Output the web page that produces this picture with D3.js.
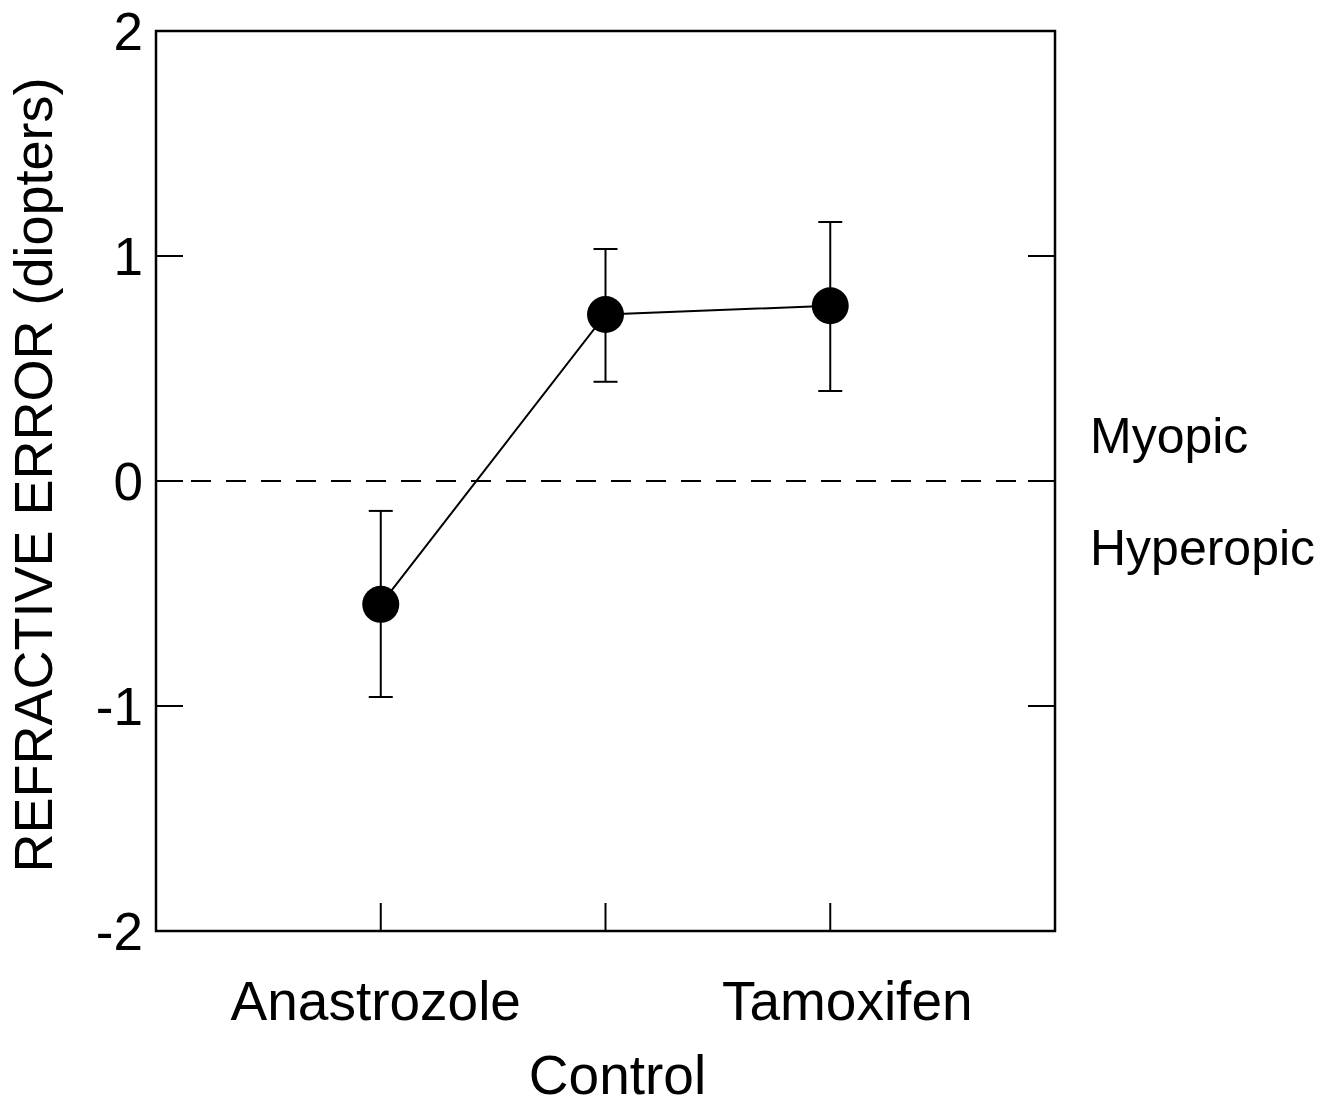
<!DOCTYPE html>
<html>
<head>
<meta charset="utf-8">
<script src="https://cdn.jsdelivr.net/npm/d3@7"></script>
<style>
  body { margin: 0; background: #fff; }
  svg { display: block; font-family: "Liberation Sans", Arial, sans-serif; }
</style>
</head>
<body>
<svg id="chart"></svg>
<script>
/*
  Refractive error by group, mean with error bars
*/

var groups = ["Anastrozole", "Control", "Tamoxifen"],
    groupPos = [1, 2, 3],
    means = [-0.548, 0.74, 0.779],
    errLow = [-0.96, 0.441, 0.4],
    errHigh = [-0.133, 1.031, 1.151],
    yTicks = [-2, -1, 0, 1, 2],
    yInnerTicks = [-1, 0, 1];

var W = 1336, H = 1105,
    margin = {top: 31, right: 281, bottom: 174, left: 156},
    width = W - margin.left - margin.right,
    height = H - margin.top - margin.bottom;

var svg = d3.select("#chart").attr("width", W).attr("height", H)
  .append("g")
    .attr("transform", "translate(" + margin.left + "," + margin.top + ")");

var x = d3.scaleLinear().domain([0, 4]).range([0, width]),
    y = d3.scaleLinear().domain([-2, 2]).range([height, 0]);

// zero reference line
svg.append("line")
  .attr("x1", 0).attr("x2", width)
  .attr("y1", y(0)).attr("y2", y(0))
  .attr("stroke", "#000").attr("stroke-width", 2)
  .attr("stroke-dasharray", "20,15");

// inner ticks, left and right
svg.selectAll(".ltick").data(yInnerTicks).enter().append("line")
  .attr("x1", 0).attr("x2", 27)
  .attr("y1", function(d) { return y(d); }).attr("y2", function(d) { return y(d); })
  .attr("stroke", "#000").attr("stroke-width", 2);

svg.selectAll(".rtick").data(yInnerTicks).enter().append("line")
  .attr("x1", width - 27).attr("x2", width)
  .attr("y1", function(d) { return y(d); }).attr("y2", function(d) { return y(d); })
  .attr("stroke", "#000").attr("stroke-width", 2);

// bottom ticks
svg.selectAll(".btick").data(groupPos).enter().append("line")
  .attr("x1", function(d) { return x(d); }).attr("x2", function(d) { return x(d); })
  .attr("y1", height).attr("y2", height - 28)
  .attr("stroke", "#000").attr("stroke-width", 2);

// frame
svg.append("rect")
  .attr("width", width).attr("height", height)
  .attr("fill", "none").attr("stroke", "#000").attr("stroke-width", 2.5);

// y tick labels
svg.selectAll(".ylab").data(yTicks).enter().append("text")
  .attr("x", -13)
  .attr("y", function(d) { return y(d); })
  .attr("dy", "0.36em")
  .attr("text-anchor", "end")
  .style("font-size", "53px")
  .text(function(d) { return d; });

// x labels
var labelDx = [-5, 12, 17],
    labelY = [height + 89, height + 163, height + 89];
svg.selectAll(".xlab").data(groups).enter().append("text")
  .attr("x", function(d, i) { return x(groupPos[i]) + labelDx[i]; })
  .attr("y", function(d, i) { return labelY[i]; })
  .attr("text-anchor", "middle")
  .style("font-size", "55px")
  .text(function(d) { return d; });

// error bars
var pts = groups.map(function(g, i) {
  return {x: groupPos[i], m: means[i], lo: errLow[i], hi: errHigh[i]};
});

svg.selectAll(".err").data(pts).enter().append("line")
  .attr("x1", function(d) { return x(d.x); }).attr("x2", function(d) { return x(d.x); })
  .attr("y1", function(d) { return y(d.lo); }).attr("y2", function(d) { return y(d.hi); })
  .attr("stroke", "#000").attr("stroke-width", 2);

["lo", "hi"].forEach(function(k) {
  svg.selectAll(".cap-" + k).data(pts).enter().append("line")
    .attr("x1", function(d) { return x(d.x) - 12; }).attr("x2", function(d) { return x(d.x) + 12; })
    .attr("y1", function(d) { return y(d[k]); }).attr("y2", function(d) { return y(d[k]); })
    .attr("stroke", "#000").attr("stroke-width", 2);
});

// connecting line
svg.append("path")
  .datum(pts)
  .attr("fill", "none").attr("stroke", "#000").attr("stroke-width", 2)
  .attr("d", d3.line().x(function(d) { return x(d.x); }).y(function(d) { return y(d.m); }));

// points
svg.selectAll(".pt").data(pts).enter().append("circle")
  .attr("cx", function(d) { return x(d.x); })
  .attr("cy", function(d) { return y(d.m); })
  .attr("r", 18.5)
  .attr("fill", "#000");

// side annotations
svg.append("text")
  .attr("x", width + 35).attr("y", y(0) - 28)
  .style("font-size", "50px").text("Myopic");
svg.append("text")
  .attr("x", width + 35).attr("y", y(0) + 84)
  .style("font-size", "50px").text("Hyperopic");

// y title
svg.append("text")
  .attr("transform", "translate(" + (52 - margin.left) + "," + (475 - margin.top) + ") rotate(-90)")
  .attr("text-anchor", "middle")
  .style("font-size", "54px")
  .text("REFRACTIVE ERROR (diopters)");
</script>
</body>
</html>
